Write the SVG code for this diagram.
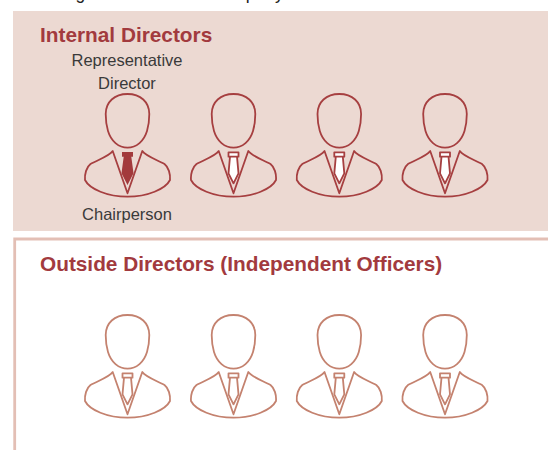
<svg xmlns="http://www.w3.org/2000/svg" width="548" height="450" viewBox="0 0 548 450">
<style>
text{font-family:"Liberation Sans",Arial,sans-serif}
.h{font-size:20.8px;font-weight:700;fill:#a23a3e}
.l{font-size:16.500px;fill:#3a3a3a;text-anchor:middle}
.in{fill:none;stroke:#a63f40;stroke-width:1.800;stroke-linejoin:round;stroke-linecap:round}
.out{fill:none;stroke:#c4826f;stroke-width:1.800;stroke-linejoin:round;stroke-linecap:round}
</style>
<defs>
<g id="base">
<path d="M0,0C13,0 21.800,8 21.800,20C21.800,26 21,32 19.500,37C16.500,47 9,53.700 0,53.700C-9,53.700 -16.500,47 -19.500,37C-21,32 -21.800,26 -21.800,20C-21.800,8 -13,0 0,0Z"/>
<path d="M-14.800,57C-18,62 -30,66 -37,70C-41,73 -43,80 -42.500,86C-38,95 -20,102.700 0,102.700C20,102.700 38,95 42.500,86C43,80 41,73 37,70C30,66 18,62 14.800,57L0,99.300Z"/>
</g>
<path id="tie" d="M-5,58.300H5V62.700H-5ZM-3.500,62.700L-5,79.300L0,89.300L5,79.300L3.500,62.700"/>
<path id="solid" d="M-5.500,58H5.500V62.700H3.800L6,79.300L0,91L-6,79.300L-3.800,62.700H-5.500Z" fill="#a33a3c" stroke="none"/>
</defs>
<rect width="548" height="450" fill="#fff"/>
<text x="56" y="-1" font-size="17.500" fill="#222">Organization of the Company</text>
<rect x="13" y="11" width="535" height="220" fill="#ecd9d2"/>
<path d="M548,239H14.700V450" fill="none" stroke="#e3bfb5" stroke-width="2.800"/>
<text class="h" x="40" y="42">Internal Directors</text>
<text class="l" x="127" y="66">Representative</text>
<text class="l" x="127" y="89">Director</text>
<text class="l" x="127" y="220">Chairperson</text>
<text class="h" x="40" y="271">Outside Directors (Independent Officers)</text>
<g id="internal-1" class="in" transform="translate(127.500,94)"><use href="#base"/><use href="#solid"/></g>
<g id="internal-2" class="in" transform="translate(233.500,94)"><use href="#base"/><use href="#tie" fill="#fff"/></g>
<g id="internal-3" class="in" transform="translate(339.300,94)"><use href="#base"/><use href="#tie" fill="#fff"/></g>
<g id="internal-4" class="in" transform="translate(445,94)"><use href="#base"/><use href="#tie" fill="#fff"/></g>
<g id="outside-1" class="out" transform="translate(127.500,315)"><use href="#base"/><use href="#tie"/></g>
<g id="outside-2" class="out" transform="translate(233.500,315)"><use href="#base"/><use href="#tie"/></g>
<g id="outside-3" class="out" transform="translate(339.300,315)"><use href="#base"/><use href="#tie"/></g>
<g id="outside-4" class="out" transform="translate(445,315)"><use href="#base"/><use href="#tie"/></g>
</svg>
